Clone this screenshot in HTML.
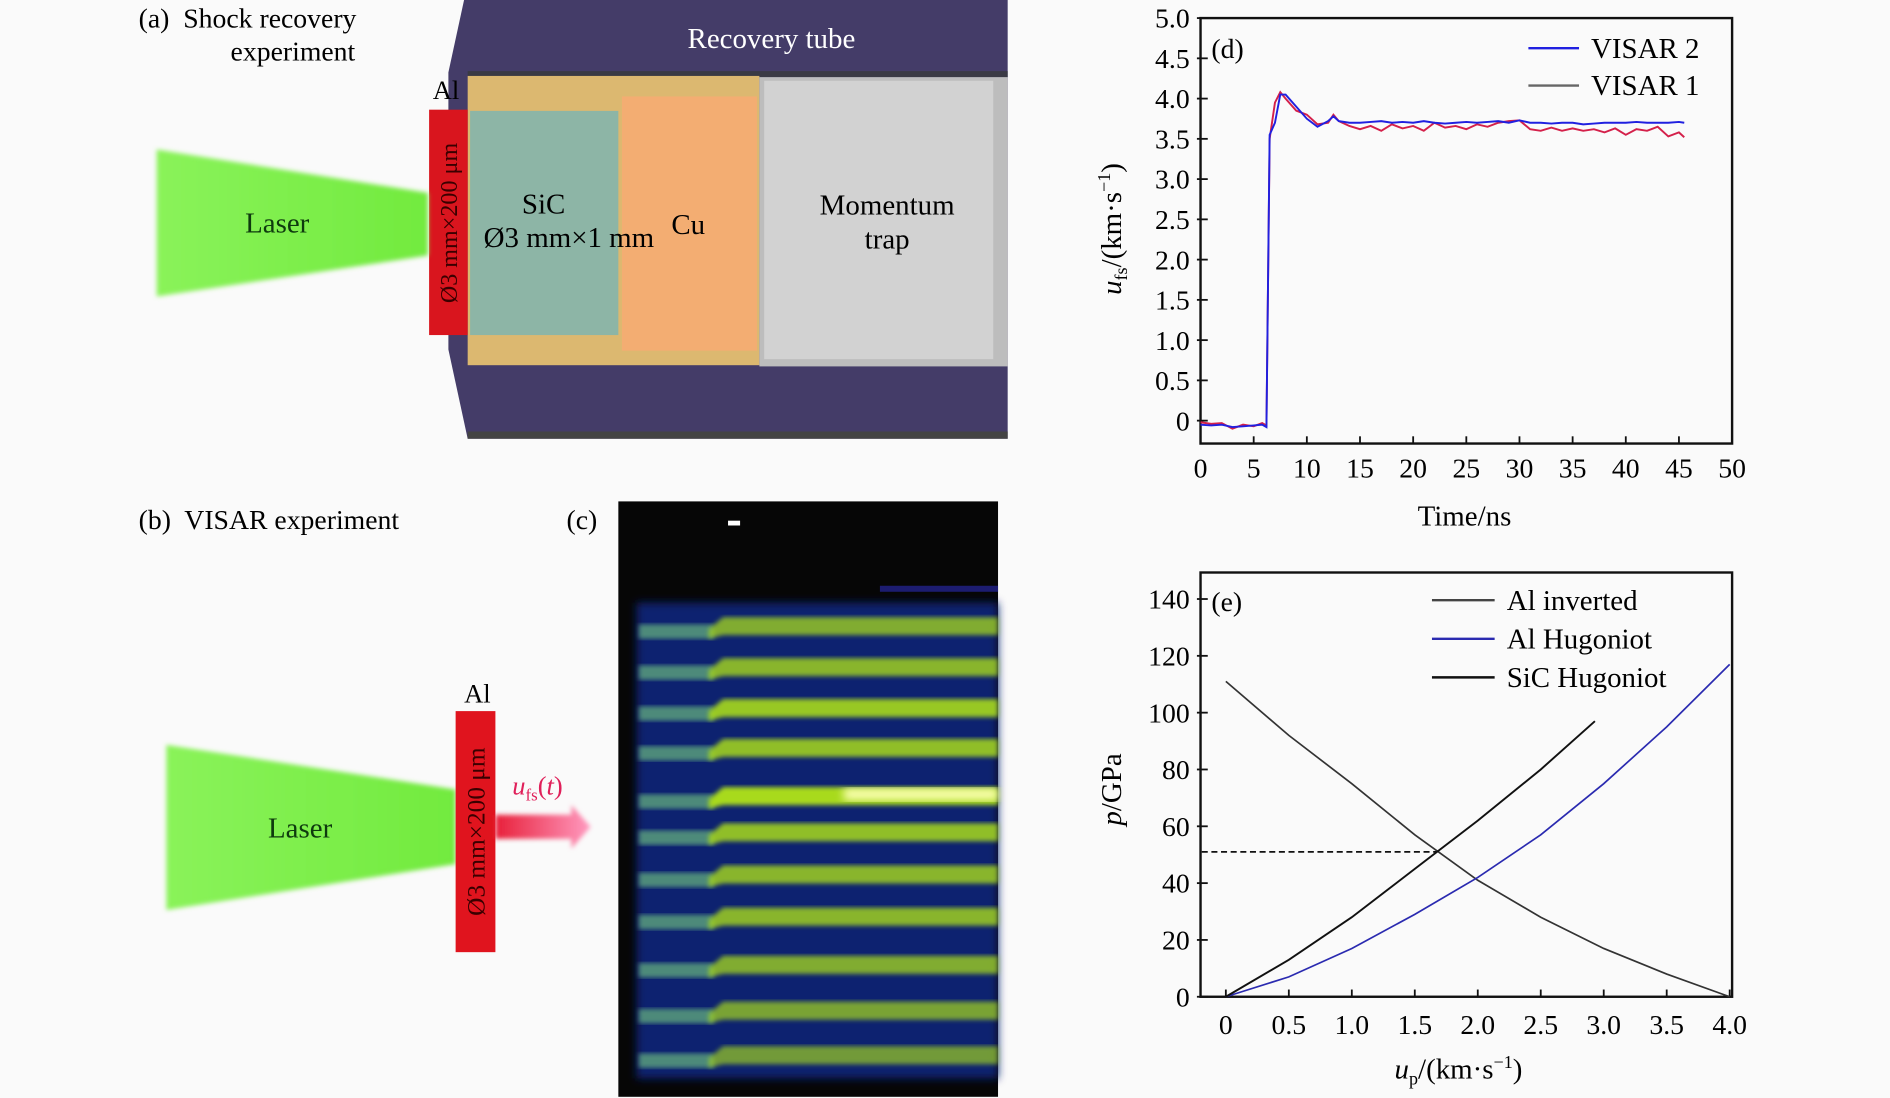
<!DOCTYPE html>
<html><head><meta charset="utf-8"><style>
html,body{margin:0;padding:0;background:#fafafa;}
svg{display:block;font-family:"Liberation Serif",serif;}
.pre{white-space:pre;}
</style></head><body>
<svg id="fig" width="1890" height="1098" viewBox="0 0 1568 911" preserveAspectRatio="none" xmlns="http://www.w3.org/2000/svg">
<defs>
<linearGradient id="lg" x1="0" x2="1"><stop offset="0" stop-color="#8af35a"/><stop offset="1" stop-color="#72ea3e"/></linearGradient>
<linearGradient id="ag" x1="0" x2="1"><stop offset="0" stop-color="#e8203a"/><stop offset="1" stop-color="#ff9ac0"/></linearGradient>
<filter id="bl"><feGaussianBlur stdDeviation="2"/></filter>
<filter id="bl4"><feGaussianBlur stdDeviation="3.5"/></filter>
</defs>

<!-- Panel a -->
<g>
<text class="pre" x="115" y="23" font-size="23">(a)  Shock recovery</text>
<text x="243" y="50" font-size="23" text-anchor="middle">experiment</text>
<polygon points="385,0 836,0 836,364 388,364 372,290 372,60" fill="#443c68"/>
<rect x="388" y="358" width="448" height="6" fill="#444"/>
<rect x="388" y="59" width="448" height="5" fill="#3a3a44"/>
<text x="640" y="40" font-size="24" fill="#fff" text-anchor="middle">Recovery tube</text>
<rect x="388" y="63" width="242" height="240" fill="#dcb870"/>
<rect x="516" y="80" width="112" height="211" fill="#f3ad72"/>
<rect x="390" y="92" width="123" height="186" fill="#8db5a6"/>
<rect x="630" y="64" width="206" height="240" fill="#bdbdbd"/>
<rect x="634" y="67" width="190" height="231" fill="#d2d2d2"/>
<rect x="356" y="91" width="32" height="187" fill="#d9151e"/>
<text x="0" y="0" font-size="20" fill="#3a0000" text-anchor="middle" transform="translate(379,185) rotate(-90)">Ø3 mm×200 μm</text>
<text x="370" y="82" font-size="22" text-anchor="middle">Al</text>
<polygon points="130,124 355,160 355,212 130,246" fill="url(#lg)" filter="url(#bl)"/>
<text x="230" y="193" font-size="24" fill="#0e3a0e" text-anchor="middle">Laser</text>
<text x="451" y="177" font-size="24" text-anchor="middle">SiC</text>
<text x="472" y="205" font-size="24" text-anchor="middle">Ø3 mm×1 mm</text>
<text x="571" y="194" font-size="24" text-anchor="middle">Cu</text>
<text x="736" y="178" font-size="24" text-anchor="middle">Momentum</text>
<text x="736" y="206" font-size="24" text-anchor="middle">trap</text>
</g>

<!-- Panel b -->
<g>
<text class="pre" x="115" y="439" font-size="23">(b)  VISAR experiment</text>
<polygon points="138,618 378,655 378,717 138,755" fill="url(#lg)" filter="url(#bl)"/>
<text x="249" y="695" font-size="24" fill="#0e3a0e" text-anchor="middle">Laser</text>
<rect x="378" y="590" width="33" height="200" fill="#e0141e"/>
<text x="0" y="0" font-size="21" fill="#3a0000" text-anchor="middle" transform="translate(402,690) rotate(-90)">Ø3 mm×200 μm</text>
<text x="396" y="583" font-size="22" text-anchor="middle">Al</text>
<polygon points="411,676 474,676 474,668 490,686 474,704 474,696 411,696" fill="url(#ag)" filter="url(#bl)"/>
<text x="425" y="659" font-size="22" fill="#e0205a" font-style="italic">u<tspan font-size="14" dy="5" font-style="normal">fs</tspan><tspan dy="-5" font-style="normal">(</tspan>t<tspan font-style="normal">)</tspan></text>
</g>

<!-- Panel c -->
<g>
<text x="470" y="439" font-size="23">(c)</text>
<rect x="513" y="416" width="315" height="494" fill="#060606"/>
<g id="fringes"></g>
<rect x="604" y="432" width="10" height="4" fill="#fff"/>
<rect x="730" y="486" width="98" height="5" fill="#1c1c70"/>
</g>

<g id="chartD"></g>
<g id="chartE"></g>
</svg>
<script>
// ---- Chart (d) data ----
const timeNs = [0,1,2,3,4,5,5.8,6.2,6.5,7,7.5,8,9,10,11,12,12.5,13,14,15,16,17,18,19,20,21,22,23,24,25,26,27,28,29,30,31,32,33,34,35,36,37,38,39,40,41,42,43,44,45,45.5];
const visar2 = [-0.05,-0.06,-0.05,-0.08,-0.07,-0.06,-0.05,-0.08,3.55,3.7,4.05,4.05,3.9,3.75,3.65,3.72,3.78,3.72,3.7,3.7,3.71,3.72,3.7,3.71,3.7,3.72,3.7,3.69,3.7,3.71,3.7,3.71,3.72,3.7,3.73,3.7,3.7,3.69,3.7,3.7,3.68,3.69,3.7,3.7,3.7,3.71,3.7,3.7,3.7,3.71,3.7];
const visar1 = [-0.02,-0.04,-0.03,-0.1,-0.05,-0.07,-0.03,-0.06,3.5,3.95,4.08,4.0,3.85,3.8,3.68,3.7,3.8,3.72,3.66,3.62,3.66,3.6,3.68,3.63,3.66,3.6,3.7,3.64,3.66,3.62,3.68,3.65,3.7,3.72,3.73,3.62,3.6,3.64,3.6,3.63,3.6,3.62,3.58,3.63,3.55,3.62,3.6,3.65,3.53,3.58,3.52];
const dXTicks = [0,5,10,15,20,25,30,35,40,45,50];
const dYTicks = [0,0.5,1.0,1.5,2.0,2.5,3.0,3.5,4.0,4.5,5.0];
const dYTickLabels = ["0","0.5","1.0","1.5","2.0","2.5","3.0","3.5","4.0","4.5","5.0"];
// ---- Chart (e) data ----
const upGrid = [0,0.5,1.0,1.5,2.0,2.5,3.0,3.5,4.0];
const alInverted = [111,92,75,57,41,28,17,8,0];
const alHugoniot = [0,7,17,29,42,57,75,95,117];
const sicUp = [0,0.5,1.0,1.5,2.0,2.5,2.93];
const sicHugoniot = [0,13,28,45,62,80,97];
const dashP = [51];
const dashUp = [1.67];
const eXTicks = [0,0.5,1.0,1.5,2.0,2.5,3.0,3.5,4.0];
const eXTickLabels = ["0","0.5","1.0","1.5","2.0","2.5","3.0","3.5","4.0"];
const eYTicks = [0,20,40,60,80,100,120,140];
// ---- VISAR fringe image (y centres) ----
const fringeY = [519,553,587,620,660,690,725,760,800,838,875];
const fringeBright = [0.75,0.8,0.9,0.85,1.0,0.85,0.8,0.8,0.75,0.7,0.65];

const NS='http://www.w3.org/2000/svg';
function mk(tag, attrs, parent){const e=document.createElementNS(NS,tag);for(const k in attrs)e.setAttribute(k,attrs[k]);parent.appendChild(e);return e;}

// fringes
const fr=document.getElementById('fringes');
const bg=mk('rect',{x:528,y:500,width:300,height:395,fill:'#0a2070',filter:'url(#bl4)'},fr);


fringeY.forEach((fy,i)=>{
  const l=mk('rect',{x:530,y:fy-1,width:62,height:12,fill:'#4d8a7a',filter:'url(#bl)'},fr);
  
  
  const r=mk('polygon',{points:`588,${fy+3} 600,${fy-7} 828,${fy-7} 828,${fy+8} 600,${fy+8} 588,${fy+11}`,fill:'#a8da1e',opacity:fringeBright[i],filter:'url(#bl)'},fr);
  
  
});
const hot=mk('rect',{x:700,y:654,width:128,height:10,fill:'#fbffb0',filter:'url(#bl4)'},fr);



// chart d
(function(){
  const g=document.getElementById('chartD');
  const x=t=>996+(t-0)*(1437-996)/50;
  const y=v=>349-(v)*(349-15)/5;
  const box=mk('rect',{x:996,y:15,width:441,height:353,fill:'none',stroke:'#111','stroke-width':2},g);
  
  
  dXTicks.forEach(t=>{
    const tk=mk('line',{x1:x(t),x2:x(t),y1:368,y2:362,stroke:'#111','stroke-width':1.5},g);
    
    
    const lb=mk('text',{x:x(t),y:396,'font-size':23,'text-anchor':'middle'},g);lb.textContent=t;
    
    
  });
  dYTicks.forEach((v,i)=>{
    const tk=mk('line',{x1:993,x2:1002,y1:y(v),y2:y(v),stroke:'#111','stroke-width':1.5},g);
    
    
    const lb=mk('text',{x:987,y:y(v)+8,'font-size':23,'text-anchor':'end'},g);lb.textContent=dYTickLabels[i];
    
    
  });
  const p1=mk('polyline',{points:timeNs.map((t,i)=>x(t)+','+y(visar1[i])).join(' '),fill:'none',stroke:'#d4204a','stroke-width':1.6},g);
  
  
  const p2=mk('polyline',{points:timeNs.map((t,i)=>x(t)+','+y(visar2[i])).join(' '),fill:'none',stroke:'#2020e0','stroke-width':1.6},g);
  
  
  const tl=mk('text',{x:1005,y:48,'font-size':23},g);tl.textContent='(d)';
  
  
  const l1=mk('line',{x1:1268,x2:1310,y1:40,y2:40,stroke:'#2020e0','stroke-width':2},g);
  
  
  const t1=mk('text',{x:1320,y:48,'font-size':24},g);t1.textContent='VISAR 2';
  
  
  const l2=mk('line',{x1:1268,x2:1310,y1:71,y2:71,stroke:'#666','stroke-width':2},g);
  
  
  const t2=mk('text',{x:1320,y:79,'font-size':24},g);t2.textContent='VISAR 1';
  
  
  const xl=mk('text',{x:1215,y:436,'font-size':24,'text-anchor':'middle'},g);xl.textContent='Time/ns';
  
  
  const yl=mk('text',{x:0,y:0,'font-size':24,'text-anchor':'middle',transform:'translate(930,190) rotate(-90)'},g);
  yl.innerHTML='<tspan font-style="italic">u</tspan><tspan font-size="15" dy="5">fs</tspan><tspan dy="-5">/(km·s</tspan><tspan font-size="15" dy="-9">−1</tspan><tspan dy="9">)</tspan>';
  
  
})();

// chart e
(function(){
  const g=document.getElementById('chartE');
  const x=u=>1017+u*(1435-1017)/4;
  const y=p=>827-p*(827-497)/140;
  const box=mk('rect',{x:996,y:475,width:441,height:352,fill:'none',stroke:'#111','stroke-width':2},g);
  
  
  eXTicks.forEach((u,i)=>{
    const tk=mk('line',{x1:x(u),x2:x(u),y1:827,y2:821,stroke:'#111','stroke-width':1.5},g);
    
    
    const lb=mk('text',{x:x(u),y:858,'font-size':23,'text-anchor':'middle'},g);lb.textContent=eXTickLabels[i];
    
    
  });
  eYTicks.forEach(p=>{
    const tk=mk('line',{x1:993,x2:1002,y1:y(p),y2:y(p),stroke:'#111','stroke-width':1.5},g);
    
    
    const lb=mk('text',{x:987,y:y(p)+8,'font-size':23,'text-anchor':'end'},g);lb.textContent=p;
    
    
  });
  const d=mk('polyline',{points:`997,${y(dashP[0])} ${x(dashUp[0])},${y(dashP[0])}`,fill:'none',stroke:'#111','stroke-width':1.4,'stroke-dasharray':'5,3'},g);
  
  
  const c1=mk('polyline',{points:upGrid.map((u,i)=>x(u)+','+y(alInverted[i])).join(' '),fill:'none',stroke:'#333','stroke-width':1.4},g);
  
  
  const c2=mk('polyline',{points:upGrid.map((u,i)=>x(u)+','+y(alHugoniot[i])).join(' '),fill:'none',stroke:'#2a2ab0','stroke-width':1.4},g);
  
  
  const c3=mk('polyline',{points:sicUp.map((u,i)=>x(u)+','+y(sicHugoniot[i])).join(' '),fill:'none',stroke:'#111','stroke-width':1.6},g);
  
  
  const tl=mk('text',{x:1005,y:507,'font-size':23},g);tl.textContent='(e)';
  
  
  const leg=[['Al inverted','#444',498],['Al Hugoniot','#2a2ab0',530],['SiC Hugoniot','#111',562]];
  leg.forEach(([n,c,ly])=>{
    const l=mk('line',{x1:1188,x2:1240,y1:ly,y2:ly,stroke:c,'stroke-width':2},g);
    
    
    const t=mk('text',{x:1250,y:ly+8,'font-size':24},g);t.textContent=n;
    
    
  });
  const xl=mk('text',{x:1210,y:895,'font-size':24,'text-anchor':'middle'},g);
  xl.innerHTML='<tspan font-style="italic">u</tspan><tspan font-size="15" dy="5">p</tspan><tspan dy="-5">/(km·s</tspan><tspan font-size="15" dy="-9">−1</tspan><tspan dy="9">)</tspan>';
  
  
  const yl=mk('text',{x:0,y:0,'font-size':24,'text-anchor':'middle',transform:'translate(930,655) rotate(-90)'},g);
  yl.innerHTML='<tspan font-style="italic">p</tspan>/GPa';
  
  
})();
</script>
</body></html>
